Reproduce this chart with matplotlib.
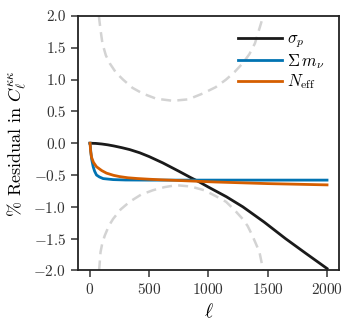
import matplotlib
matplotlib.use("Agg")
import matplotlib.pyplot as plt
import numpy as np

plt.rcParams['mathtext.fontset'] = 'cm'
plt.rcParams['font.family'] = 'serif'
plt.rcParams['font.serif'] = ['cmr10', 'DejaVu Serif']
plt.rcParams['axes.formatter.use_mathtext'] = True
plt.rcParams['axes.unicode_minus'] = True

# sigma_p
ell_sig = [0, 50, 100, 150, 200, 270, 336, 420, 500, 616, 750, 850, 924, 1000, 1150, 1290, 1470, 1650, 1820, 2000]
res_sig = [0, -0.003, -0.012, -0.025, -0.042, -0.07, -0.10, -0.15, -0.21, -0.31, -0.44, -0.54, -0.61, -0.69, -0.84, -1.0, -1.24, -1.5, -1.73, -1.97]

# sum m_nu
ell_mnu = [2, 8, 15, 28, 40, 56, 80, 112, 196, 300, 500, 1000, 1500, 2000]
res_mnu = [0, -0.14, -0.25, -0.37, -0.44, -0.50, -0.53, -0.556, -0.572, -0.578, -0.58, -0.58, -0.58, -0.58]

# N_eff
ell_neff = [2, 6, 14, 30, 56, 100, 140, 200, 252, 320, 400, 500, 600, 800, 1064, 1500, 2000]
res_neff = [0, -0.12, -0.22, -0.30, -0.37, -0.43, -0.47, -0.505, -0.525, -0.543, -0.555, -0.566, -0.575, -0.59, -0.61, -0.635, -0.655]

# error envelope (upper / lower)
ell_up = [76, 90, 106, 135, 168, 220, 280, 360, 447, 560, 700, 830, 950, 1060, 1148, 1220, 1288, 1345, 1392, 1462]
err_up = [2.0, 1.78, 1.57, 1.38, 1.255, 1.11, 1.0, 0.87, 0.78, 0.70, 0.667, 0.69, 0.78, 0.88, 1.0, 1.12, 1.255, 1.4, 1.57, 2.0]
ell_lo = [78, 90, 105, 126, 160, 196, 260, 336, 430, 530, 630, 728, 850, 966, 1060, 1148, 1220, 1288, 1330, 1370, 1430, 1462]
err_lo = [-2.0, -1.71, -1.57, -1.45, -1.30, -1.19, -1.04, -0.92, -0.81, -0.74, -0.69, -0.66, -0.68, -0.74, -0.83, -0.92, -1.05, -1.19, -1.30, -1.45, -1.71, -2.0]

fig = plt.figure(figsize=(3.53, 3.27), dpi=100)
ax = fig.add_axes([0.221, 0.173, 0.739, 0.778])

ax.plot(ell_up, err_up, color='#d3d3d3', lw=1.8, ls=(0, (4, 2.5)))
ax.plot(ell_lo, err_lo, color='#d3d3d3', lw=1.8, ls=(0, (4, 2.5)))
ax.plot(ell_sig, res_sig, color='#1a1a1a', lw=2, label=r'$\sigma_p$')
ax.plot(ell_mnu, res_mnu, color='#0173B2', lw=2, label=r'$\Sigma\, m_\nu$')
ax.plot(ell_neff, res_neff, color='#D55E00', lw=2, label=r'$N_{\rm eff}$')

ax.set_xlim(-100, 2100)
ax.set_ylim(-2.0, 2.0)
ax.set_xticks([0, 500, 1000, 1500, 2000])
ax.set_yticks(np.arange(-2.0, 2.01, 0.5))
ax.yaxis.set_major_formatter(matplotlib.ticker.FuncFormatter(lambda v, p: (r'$-$' if v < -1e-9 else '') + f'{abs(v):.1f}'))
ax.tick_params(direction='out', length=5, width=1.1, labelsize=11, colors='#333333', labelcolor='#333333')
for s in ax.spines.values():
    s.set_linewidth(1.3)
    s.set_color('#222222')

ax.set_xlabel(r'$\ell$', fontsize=14, labelpad=4)
ax.set_ylabel(r'% Residual in $C_\ell^{\kappa\kappa}$', fontsize=13, labelpad=3)

ax.legend(loc='upper right', frameon=False, fontsize=12, handlelength=2.6,
          handletextpad=0.3, labelspacing=0.1, borderaxespad=0.5)

fig.savefig('out.png', dpi=100)
